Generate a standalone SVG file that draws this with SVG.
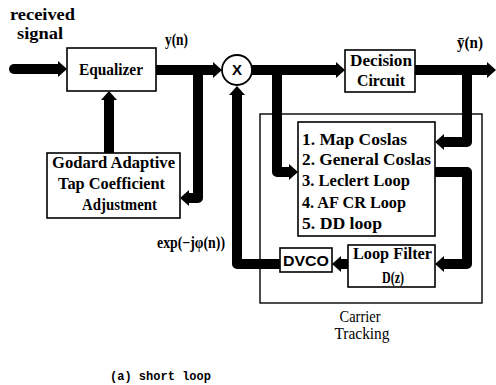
<svg xmlns="http://www.w3.org/2000/svg" width="496" height="385" viewBox="0 0 496 385">
  <style>
    .box { fill: #fff; stroke: #000; stroke-width: 1.6; }
    .frame { fill: none; stroke: #000; stroke-width: 1.4; }
    .wire { fill: none; stroke: #000; stroke-width: 10; stroke-linejoin: round; }
    .t { font-family: "Liberation Serif", "DejaVu Serif", serif; font-weight: bold; font-size: 16px; fill: #000; }
    .big { font-size: 17px; }
    .s { font-family: "Liberation Sans", "DejaVu Sans", sans-serif; font-weight: bold; font-size: 15px; fill: #000; }
    .n { font-family: "Liberation Serif", "DejaVu Serif", serif; font-size: 16px; fill: #000; }
    .m { font-family: "Liberation Mono", "DejaVu Sans Mono", monospace; font-weight: bold; font-size: 12px; fill: #000; }
  </style>
  <defs>
    <marker id="head" viewBox="0 0 9 16" refX="0" refY="8" markerWidth="9" markerHeight="16" markerUnits="userSpaceOnUse" orient="auto">
      <path d="M0,0 L9,8 L0,16 z" fill="#000"/>
    </marker>
  </defs>

  <!-- carrier tracking frame -->
  <g id="carrier-tracking">
    <rect class="frame" x="260" y="114" width="222" height="189"/>
    <text class="n" x="360" y="322" text-anchor="middle" textLength="41" lengthAdjust="spacingAndGlyphs">Carrier</text>
    <text class="n" x="362" y="339" text-anchor="middle" textLength="55" lengthAdjust="spacingAndGlyphs">Tracking</text>
  </g>

  <!-- signal path connectors -->
  <g id="connectors">
    <path class="wire" d="M14,69 H58" stroke-linecap="round" marker-end="url(#head)"/>
    <path class="wire" d="M156,70 H213" marker-end="url(#head)"/>
    <path class="wire" d="M198,70 V198 H189" marker-end="url(#head)"/>
    <path class="wire" d="M109,153 V100" marker-end="url(#head)"/>
    <path class="wire" d="M280,264 H237 V95" marker-end="url(#head)"/>
    <path class="wire" d="M252,70 H336" marker-end="url(#head)"/>
    <path class="wire" d="M277,70 V172 H289" marker-end="url(#head)"/>
    <path class="wire" d="M415,70 H487" marker-end="url(#head)"/>
    <path class="wire" d="M467,70 V142 H444" marker-end="url(#head)"/>
    <path class="wire" d="M435,172 H467 V264 H444" marker-end="url(#head)"/>
    <path class="wire" d="M348,264 H341" marker-end="url(#head)"/>
  </g>

  <g id="input-label">
    <text class="t big" x="10" y="20" textLength="65" lengthAdjust="spacingAndGlyphs">received</text>
    <text class="t big" x="17" y="39" textLength="46" lengthAdjust="spacingAndGlyphs">signal</text>
  </g>

  <g id="equalizer">
    <rect class="box" x="67" y="48" width="89" height="43"/>
    <text class="t big" x="111" y="75" text-anchor="middle" textLength="64" lengthAdjust="spacingAndGlyphs">Equalizer</text>
  </g>

  <g id="yn-label">
    <text class="t" x="165" y="45" textLength="23" lengthAdjust="spacingAndGlyphs">y(n)</text>
  </g>

  <g id="mixer">
    <circle cx="237" cy="70" r="15" fill="#fff" stroke="#000" stroke-width="1.8"/>
    <text class="s" x="237" y="75" text-anchor="middle">X</text>
  </g>

  <g id="godard">
    <rect class="box" x="47" y="153" width="133" height="65"/>
    <text class="t" x="52" y="168" textLength="123" lengthAdjust="spacingAndGlyphs">Godard  Adaptive</text>
    <text class="t" x="58" y="189" textLength="107" lengthAdjust="spacingAndGlyphs">Tap Coefficient</text>
    <text class="t" x="82" y="210" textLength="75" lengthAdjust="spacingAndGlyphs">Adjustment</text>
  </g>

  <g id="exp-label">
    <text class="t" x="157" y="248" textLength="68" lengthAdjust="spacingAndGlyphs">exp(−jφ(n))</text>
  </g>

  <g id="decision">
    <rect class="box" x="345" y="50" width="70" height="42"/>
    <text class="t big" x="381" y="66" text-anchor="middle" textLength="62" lengthAdjust="spacingAndGlyphs">Decision</text>
    <text class="t big" x="381" y="86" text-anchor="middle" textLength="48" lengthAdjust="spacingAndGlyphs">Circuit</text>
  </g>

  <g id="output-label">
    <text class="t" x="457" y="48" textLength="26" lengthAdjust="spacingAndGlyphs">ȳ(n)</text>
  </g>

  <g id="loop-types">
    <rect class="box" x="298" y="122" width="137" height="114"/>
    <text class="t" x="302" y="145" textLength="105" lengthAdjust="spacingAndGlyphs">1. Map Coslas</text>
    <text class="t" x="302" y="165" textLength="129" lengthAdjust="spacingAndGlyphs">2. General Coslas</text>
    <text class="t" x="302" y="186" textLength="108" lengthAdjust="spacingAndGlyphs">3. Leclert Loop</text>
    <text class="t" x="302" y="208" textLength="104" lengthAdjust="spacingAndGlyphs">4. AF CR Loop</text>
    <text class="t" x="302" y="229" textLength="80" lengthAdjust="spacingAndGlyphs">5. DD loop</text>
  </g>

  <g id="dvco">
    <rect class="box" x="280" y="248" width="52" height="24"/>
    <text class="s" x="306" y="266" text-anchor="middle" textLength="46" lengthAdjust="spacingAndGlyphs">DVCO</text>
  </g>

  <g id="loop-filter">
    <rect class="box" x="348" y="245" width="87" height="42"/>
    <text class="t" x="353" y="259" textLength="79" lengthAdjust="spacingAndGlyphs">Loop Filter</text>
    <text class="t" x="382" y="283" textLength="22" lengthAdjust="spacingAndGlyphs">D(z)</text>
  </g>

  <g id="caption">
    <text class="m" x="110" y="380" textLength="101" lengthAdjust="spacingAndGlyphs">(a) short loop</text>
  </g>
</svg>
